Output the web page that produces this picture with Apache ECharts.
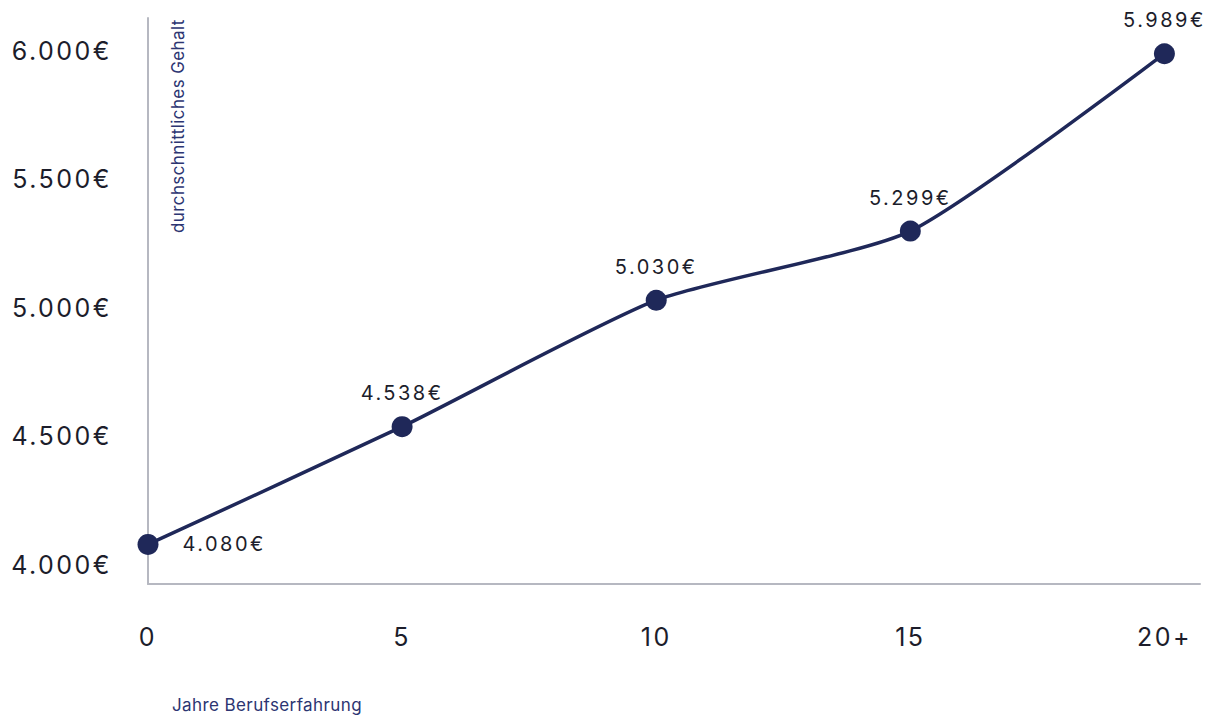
<!DOCTYPE html>
<html>
<head>
<meta charset="utf-8">
<script src="https://cdn.jsdelivr.net/npm/echarts@6/dist/echarts.min.js"></script>
<style>
  html, body { margin: 0; padding: 0; background: #ffffff; }
  #chart { width: 1214px; height: 717px; }
  /* airy tracking for numbers and axis titles */
  #chart text { letter-spacing: 2.5px; }
  #chart text[style*="17px"] { letter-spacing: 0.4px; }
</style>
</head>
<body>
<div id="chart"></div>
<script>
// Years of experience and the matching average monthly salary
const years = [0, 5, 10, 15, 20];
const yearLabels = ['0', '5', '10', '15', '20+'];
const salary = [4080, 4538, 5030, 5299, 5989];
const salaryTicks = [4000, 4500, 5000, 5500, 6000];

const NAVY = '#1f2859';
const INK = '#1c1d2b';
const AXIS_GREY = '#b6b8c1';
const FONT = 'Inter, "Noto Sans", sans-serif';

function euro(v) {
  return String(v).replace(/\B(?=(\d{3})+(?!\d))/g, '.') + '€';
}

const chart = echarts.init(document.getElementById('chart'), null, { renderer: 'svg' });

chart.setOption({
  animation: false,
  backgroundColor: '#ffffff',
  grid: { left: 148, right: 14, top: 18, bottom: 133, containLabel: false },
  xAxis: {
    type: 'value',
    min: 0,
    max: 20.7,
    splitLine: { show: false },
    axisTick: { show: false },
    axisLine: { show: true, lineStyle: { color: AXIS_GREY, width: 2 } },
    axisLabel: {
      customValues: years,
      margin: 40,
      color: INK,
      fontFamily: FONT,
      fontSize: 25,
      formatter: function (v) {
        const i = years.indexOf(v);
        return i >= 0 ? yearLabels[i] : '';
      }
    }
  },
  yAxis: {
    type: 'value',
    min: 3926,
    max: 6128,
    splitLine: { show: false },
    axisTick: { show: false },
    axisLine: { show: true, lineStyle: { color: AXIS_GREY, width: 2 } },
    axisLabel: {
      customValues: salaryTicks,
      margin: 36,
      color: INK,
      fontFamily: FONT,
      fontSize: 25,
      formatter: function (v) { return euro(v); }
    }
  },
  graphic: [
    {
      type: 'text',
      x: 178,
      y: 233,
      rotation: Math.PI / 2,
      style: {
        text: 'durchschnittliches Gehalt',
        fill: '#2c3572',
        font: '17px ' + FONT,
        textAlign: 'left',
        textVerticalAlign: 'middle'
      }
    },
    {
      type: 'text',
      x: 172,
      y: 705,
      style: {
        text: 'Jahre Berufserfahrung',
        fill: '#2c3572',
        font: '17px ' + FONT,
        textAlign: 'left',
        textVerticalAlign: 'middle'
      }
    }
  ],
  series: [
    {
      type: 'line',
      data: years.map(function (y, i) {
        const point = { value: [y, salary[i]] };
        if (i === 0) {
          point.label = { position: 'right', distance: 24 };
        }
        return point;
      }),
      smooth: 0.2,
      symbol: 'circle',
      symbolSize: 21,
      lineStyle: { color: NAVY, width: 3.5 },
      itemStyle: { color: NAVY, borderWidth: 0 },
      label: {
        show: true,
        position: 'top',
        distance: 13,
        color: INK,
        fontFamily: FONT,
        fontSize: 20,
        formatter: function (p) { return euro(p.value[1]); }
      },
      emphasis: { disabled: true }
    }
  ]
});
</script>
</body>
</html>
